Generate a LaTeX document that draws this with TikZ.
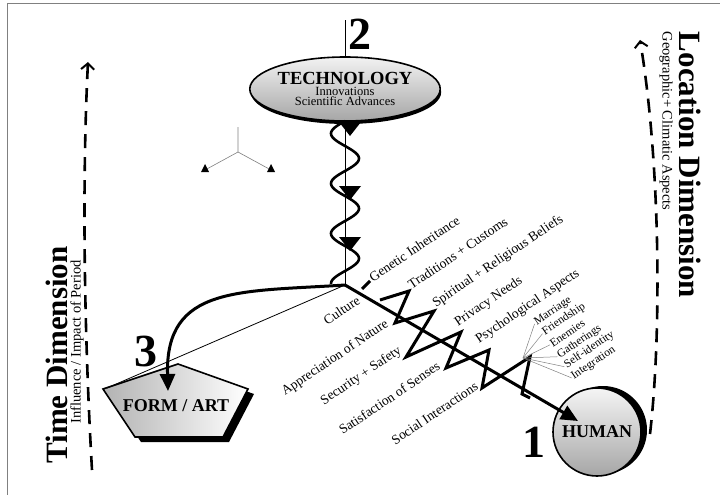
\documentclass[tikz,border=0pt]{standalone}
\usepackage{fontspec}
\setmainfont{Liberation Serif}
\usetikzlibrary{arrows.meta,shapes.geometric,shadows}

\tikzset{
  lbl/.style={font=\fontsize{13.5}{13.5}\selectfont, rotate=34, inner sep=1pt},
  sublbl/.style={font=\fontsize{11.5}{11.5}\selectfont, rotate=34, inner sep=1pt},
  bignum/.style={font=\bfseries\fontsize{46}{46}\selectfont, inner sep=0pt},
  dimtitle/.style={font=\bfseries\fontsize{31}{31}\selectfont, inner sep=0pt},
  dimsub/.style={font=\fontsize{14.5}{14.5}\selectfont, inner sep=0pt},
  heavy/.style={line width=3pt},
  bigtip/.style={-{Triangle[length=17pt,width=15pt]}},
  timeline/.style={line width=2.6pt, dash pattern=on 14pt off 9pt, -{Straight Barb[length=6pt,width=13pt,line width=2pt]}},
  fanline/.style={gray, line width=0.5pt},
}

\begin{document}
\begin{tikzpicture}[x=1pt,y=-1pt]
  \useasboundingbox (0,0) rectangle (720,495);

  % frame on top and left
  \draw[gray, line width=1pt] (7,495) -- (7,4) -- (720,4);

  % time dimension on the left
  \draw[timeline] (92,470) .. controls (84,330) and (82,180) .. (88,62);
  \node[dimtitle, rotate=90] (timedim) at (57,355) {Time Dimension};
  \node[dimsub, rotate=90] (timesub) at (77,342) {Influence / Impact of Period};

  % location dimension on the right
  \draw[timeline] (650,434) .. controls (662,330) and (660,160) .. (640,40);
  \node[dimtitle, rotate=-90] (locdim) at (690,165) {Location Dimension};
  \node[dimsub, rotate=-90] (locsub) at (666,121) {Geographic+ Climatic Aspects};

  % small axes sign
  \coordinate (tri) at (238,152);
  \draw[gray, line width=0.6pt] (238,127) -- (tri) -- (205,170);
  \draw[gray, line width=0.6pt] (tri) -- (271,170);
  \fill (201,172) -- (209,172) -- (205,164) -- cycle;
  \fill (267,172) -- (275,172) -- (271,164) -- cycle;

  % technology on top, with the helix down to the centre
  \coordinate (O) at (345,285);
  \node[ellipse, draw, line width=1.6pt, minimum width=158pt, minimum height=64pt,
        top color=gray!10, bottom color=gray!70,
        drop shadow={shadow xshift=1pt, shadow yshift=-3pt, fill=black, opacity=1},
        align=center, inner sep=0pt] (tech) at (345,89)
        {{\bfseries\fontsize{18.5}{18.5}\selectfont TECHNOLOGY}\\[-1pt]
         {\fontsize{12.5}{13}\selectfont Innovations}\\[-2pt]
         {\fontsize{12.5}{13}\selectfont Scientific Advances}};
  \node[bignum] (two) at (360,34) {2};
  \draw[line width=0.6pt] (tech.north) -- ++(0,-36);
  \draw[line width=0.6pt] (tech.south) -- (O);
  \draw[line width=2.6pt] plot[domain=121:284, samples=120, smooth]
        ({345-14*sin(7.2*(\x-121))}, \x);
  \foreach \ty in {128,192,243}
    \fill (339,\ty-6) -- (361,\ty-6) -- (350,\ty+8) -- cycle;

  % form / art pentagon
  \fill (184,369) -- (254,394) -- (229,442) -- (141,442) -- (109,394) -- cycle;
  \shade[left color=gray!60, right color=white, draw=black, line width=1.6pt]
        (178,364) -- (248,389) -- (223,437) -- (135,437) -- (103,389) -- cycle;
  \node[font=\bfseries\fontsize{18}{18}\selectfont] (form) at (176,406) {FORM / ART};
  \node[bignum] (three) at (146,351) {3};
  \coordinate (formtip) at (168,391);
  \coordinate (formedge) at (107,388);
  \draw[line width=0.8pt] (O) -- (formedge);
  \draw[heavy, bigtip] (O) .. controls (240,292) and (165,285) .. (formtip);

  % human circle
  \node[circle, draw, line width=1.6pt, minimum size=88pt,
        top color=gray!8, bottom color=gray!70,
        drop shadow={shadow xshift=6pt, shadow yshift=2pt, fill=black, opacity=1},
        font=\bfseries\fontsize{18}{18}\selectfont] (human) at (597,432) {HUMAN};
  \node[bignum] (one) at (534,442) {1};

  % culture line with zigzag
  \coordinate (humantip) at (578,421);
  \draw[heavy, bigtip] (O) -- (humantip);
  \draw[heavy] (362,289) -- (370,281);
  \draw[heavy, line join=miter] (380,300) -- (409,291) -- (395,323) -- (434,311)
        -- (406,357) -- (461,332) -- (446,368) -- (489,350) -- (482,388)
        -- (530,357) -- (522,394) -- (530,398);

  % labels above the line
  \node[lbl, anchor=base west] (genetic) at (372,283) {Genetic Inheritance};
  \node[lbl, anchor=base west] (tradition) at (411,290) {Traditions + Customs};
  \node[lbl, anchor=base west] (spirit) at (435,308) {Spiritual + Religious Beliefs};
  \node[lbl, anchor=base west] (privacy) at (457,327) {Privacy Needs};
  \node[lbl, anchor=base west] (psycho) at (478,344) {Psychological Aspects};

  % labels below the line
  \node[lbl, anchor=base east] (culture) at (362,302) {Culture};
  \node[lbl, anchor=base east] (nature) at (390,325) {Appreciation of Nature};
  \node[lbl, anchor=base east] (safety) at (403,352) {Security + Safety};
  \node[lbl, anchor=base east] (senses) at (442,368) {Satisfaction of Senses};
  \node[lbl, anchor=base east] (social) at (480,388) {Social Interactions};

  % social interactions fan
  \coordinate (fan) at (523,358);
  \node[sublbl, anchor=base west] (marriage) at (536,326) {Marriage};
  \node[sublbl, anchor=base west] (friend) at (544,336) {Friendship};
  \node[sublbl, anchor=base west] (enemy) at (552,348) {Enemies};
  \node[sublbl, anchor=base west] (gather) at (559,359) {Gatherings};
  \node[sublbl, anchor=base west] (self) at (566,369) {Self-identity};
  \node[sublbl, anchor=base west] (integ) at (573,380) {Integration};
  \foreach \lb in {marriage,friend,enemy,gather,self,integ}
    \draw[fanline] (fan) -- (\lb.west);
\end{tikzpicture}
\end{document}
